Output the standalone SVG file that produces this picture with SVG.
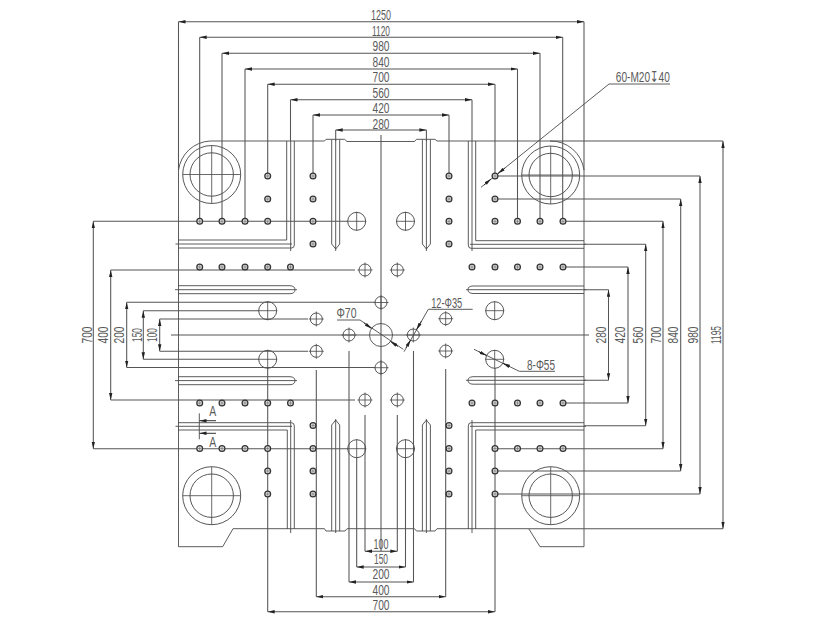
<svg xmlns="http://www.w3.org/2000/svg" xmlns:xlink="http://www.w3.org/1999/xlink" width="838" height="624" viewBox="0 0 838 624">
<style>
.o{fill:none;stroke:#4a4a4a;stroke-width:.9}
.e{fill:none;stroke:#555;stroke-width:1.05}
.d{fill:none;stroke:#555;stroke-width:1.05;marker-start:url(#ar);marker-end:url(#ar)}
.a{fill:none;stroke:#333;stroke-width:1;marker-end:url(#ar)}
text{font-family:"Liberation Sans",Arial,"DejaVu Sans",sans-serif;font-size:15px;fill:#5a5a5a;text-anchor:middle}
text.b{font-size:14px}
</style>
<defs>
<marker id="ar" markerUnits="userSpaceOnUse" markerWidth="8" markerHeight="4" refX="7" refY="2" orient="auto-start-reverse"><path d="M0,.3L7,2L0,3.7z" fill="#222"/></marker>
<g id="h"><circle r="2.9" fill="#ddd" stroke="#333" stroke-width="1.25"/><path d="M-1.8,0H1.8M0,-1.8V1.8" stroke="#666" stroke-width=".6"/></g>
<g id="c55"><circle r="9" fill="none" stroke="#444" stroke-width=".9"/><path d="M-9.5,0H9.5M0,-9.5V9.5" stroke="#444" stroke-width=".8"/></g>
<g id="c35"><circle r="6" fill="none" stroke="#444" stroke-width=".9"/><path d="M-7.5,0H7.5M0,-7.5V7.5" stroke="#444" stroke-width=".8"/></g>
<g id="ring"><circle r="29" fill="none" stroke="#444" stroke-width=".9"/><circle r="21.7" fill="none" stroke="#444" stroke-width=".9"/><path d="M-29,0H29M0,-29V29" stroke="#444" stroke-width=".8"/></g>
</defs>
<rect width="838" height="624" fill="#fff"/>

<g id="plate">
<path class="o" d="M210,141H324.5L326,139.3H344.5L347,141.5H414.5L416.5,139.3H435L437,141H550A33.5,33.5 0 0 1 584,170V546.7H540L528.7,528.7H437L435,531H416.5L414.5,528.7H347L345,531H326L324.5,528.7H233L222.7,546.7H178.5V170A33.5,33.5 0 0 1 210,141Z"/>
<path class="o" d="M178,240H286.7V141M178,248H291.5Q294.3,248 294.3,245V141M175.5,244H292M290.7,141V251"/>
<path class="o" d="M584,240.7H475.7V141M584,248.3H471Q468.3,248.3 468.3,245V141M586,244.3H470M472,141V251"/>
<path class="o" d="M178,430H287.3V529M178,422.7H291.5Q294.3,422.7 294.3,426V529M175.5,426.3H292M290.7,420V533"/>
<path class="o" d="M584,430H475.7V529M584,422.7H471Q468.3,422.7 468.3,426V529M586,426.3H470M472,420V533"/>
<path class="o" d="M178,285.7H290Q295,286 295,289.7Q295,293.5 290,293.7H178M175,289.7H297"/>
<path class="o" d="M178,376.7H290Q295,377 295,380.5Q295,384.5 290,384.7H178M175,380.6H297"/>
<path class="o" d="M584,286H473Q468,286 468,289.7Q468,293.3 473,293.5H584M586,289.7H466"/>
<path class="o" d="M584,376.7H473Q468,377 468,380.3Q468,384 473,384.2H584M586,380.3H466"/>
<path class="o" d="M331.7,139.5V244L335.7,249L339.7,244V139.5M335.7,139.5V251"/>
<path class="o" d="M422.4,139.5V244L426.4,249L430.4,244V139.5M426.4,139.5V251"/>
<path class="o" d="M331.7,531V425L335.7,420L339.7,425V531M335.7,419V533"/>
<path class="o" d="M422.4,531V425L426.4,420L430.4,425V531M426.4,419V533"/>
<use xlink:href="#ring" href="#ring" x="211.7" y="174.5"/>
<use xlink:href="#ring" href="#ring" x="550.7" y="175"/>
<use xlink:href="#ring" href="#ring" x="211.7" y="495.7"/>
<use xlink:href="#ring" href="#ring" x="550.7" y="495.7"/>
<circle cx="381" cy="335" r="11.5" class="o"/>
<use href="#c55" x="356.7" y="221.3"/><use href="#c55" x="405.5" y="221.3"/>
<use href="#c55" x="356.7" y="448.7"/><use href="#c55" x="405.5" y="448.7"/>
<use href="#c55" x="267.7" y="310.7"/><use href="#c55" x="267.7" y="359.3"/>
<use href="#c55" x="494.7" y="310.7"/><use href="#c55" x="494.7" y="359.3"/>
<use href="#c35" x="365" y="270"/><use href="#c35" x="397.3" y="270"/>
<use href="#c35" x="365" y="400"/><use href="#c35" x="397.3" y="400"/>
<use href="#c35" x="316.3" y="319"/><use href="#c35" x="316.3" y="351.3"/>
<use href="#c35" x="445.7" y="318.7"/><use href="#c35" x="445.7" y="351"/>
<use href="#c35" x="349" y="335"/><use href="#c35" x="413.3" y="335"/>
<use href="#c35" x="381" y="302.5"/><use href="#c35" x="381" y="367.7"/>
</g>

<g id="connectors">
<path class="e" d="M178.5,21.7V170M584,21.7V170M199.7,37.3V221.3M562.7,37.3V221.3M222,53.3V221.3M540,53.3V221.3M245,69V221.3M517.5,69V221.3M267.7,84.3V176M495,84.3V176M290.5,99.7V141M472,99.7V141M313,115V176M449,115V176M335.7,130V141M426.4,130V141"/>
<path class="e" d="M381,135V551.3M171,335H589"/>
<path class="d" d="M178.5,21.7H584"/><path class="d" d="M199.7,37.3H562.7"/><path class="d" d="M222,53.3H540"/><path class="d" d="M245,69H517.5"/><path class="d" d="M267.7,84.3H495"/><path class="d" d="M290.5,99.7H472"/><path class="d" d="M313,115H449"/><path class="d" d="M335.7,130H426.4"/>
<path class="e" d="M550,141H723M528.7,528.7H723M495,176H700M495,199H680.7M563,221.3H663M584,244.3H645.7M563,267H628M584,289.7H608.5M584,380.3H608.5M563,403H628M584,425.7H645.7M495,448.7H663M495,471H680.7M495,494H700"/>
<path class="d" d="M723,141V528.7"/><path class="d" d="M700,176V494"/><path class="d" d="M680.7,199V471"/><path class="d" d="M663,221.3V448.7"/><path class="d" d="M645.7,244.3V425.7"/><path class="d" d="M628,267V403"/><path class="d" d="M608.5,289.7V380.3"/>
<path class="e" d="M93.3,221.3H348M93.3,448.7H348M110.7,270H355M110.7,400H355M126.7,302.3H375M126.7,367.5H375M143.3,310.7H259M143.3,359.3H259M159.7,319H308M159.7,351.3H308"/>
<path class="d" d="M93.3,221.3V448.7"/><path class="d" d="M110.7,270V400"/><path class="d" d="M126.7,302.3V367.5"/><path class="d" d="M143.3,310.7V359.3"/><path class="d" d="M159.7,319V351.3"/>
<path class="e" d="M365,415V551.3M397.3,415V551.3M356.7,458V567M405.5,458V567M349,351V582M413.5,351V582M316.3,370V596.7M445.7,369V596.7M267.7,368V611.7M495,368V611.7"/>
<path class="d" d="M365,551.3H397.3"/><path class="d" d="M356.7,567H405.5"/><path class="d" d="M349,582H413.5"/><path class="d" d="M316.3,596.7H445.7"/><path class="d" d="M267.7,611.7H495"/>
<path class="o" d="M670,84H609L481,187.3"/>
<path class="a" d="M505,168L498,173.5"/><path class="a" d="M484,185L491,179"/>
<path class="o" d="M337,320H360L403.3,349.3"/>
<path class="a" d="M364,323L371.5,328.5"/><path class="a" d="M398,346.5L390.5,341.5"/>
<path class="o" d="M472.7,309.3H428.3L404,351.7"/>
<path class="a" d="M421.5,321L416.5,329.7"/><path class="a" d="M406,348L410.5,340"/>
<path class="o" d="M555,371.3H519.3L474,349.3"/>
<path class="a" d="M479,351.8L486.5,355.5"/><path class="a" d="M510,366.7L503,363.3"/>
<path class="o" d="M199.3,413.3V439.3"/>
<path class="a" d="M216,420.7H199.5"/><path class="a" d="M216,433.3H199.5"/>
</g>

<g id="holes">
<use href="#h" x="267.7" y="176"/><use href="#h" x="313" y="176"/><use href="#h" x="449" y="176"/><use href="#h" x="495" y="176"/>
<use href="#h" x="267.7" y="199"/><use href="#h" x="313" y="199"/><use href="#h" x="449" y="199"/><use href="#h" x="495" y="199"/>
<use href="#h" x="199.7" y="221.3"/><use href="#h" x="222" y="221.3"/><use href="#h" x="245" y="221.3"/><use href="#h" x="267.7" y="221.3"/><use href="#h" x="313" y="221.3"/><use href="#h" x="449" y="221.3"/><use href="#h" x="495" y="221.3"/><use href="#h" x="517.5" y="221.3"/><use href="#h" x="540" y="221.3"/><use href="#h" x="563" y="221.3"/>
<use href="#h" x="313" y="244"/><use href="#h" x="449" y="244"/>
<use href="#h" x="199.7" y="267"/><use href="#h" x="222" y="267"/><use href="#h" x="245" y="267"/><use href="#h" x="267.7" y="267"/><use href="#h" x="290.5" y="267"/><use href="#h" x="472" y="267"/><use href="#h" x="495" y="267"/><use href="#h" x="517.5" y="267"/><use href="#h" x="540" y="267"/><use href="#h" x="563" y="267"/>
<use href="#h" x="199.7" y="403"/><use href="#h" x="222" y="403"/><use href="#h" x="245" y="403"/><use href="#h" x="267.7" y="403"/><use href="#h" x="290.5" y="403"/><use href="#h" x="472" y="403"/><use href="#h" x="495" y="403"/><use href="#h" x="517.5" y="403"/><use href="#h" x="540" y="403"/><use href="#h" x="563" y="403"/>
<use href="#h" x="313" y="425.5"/><use href="#h" x="449" y="425.5"/>
<use href="#h" x="199.7" y="448.5"/><use href="#h" x="222" y="448.5"/><use href="#h" x="245" y="448.5"/><use href="#h" x="267.7" y="448.5"/><use href="#h" x="313" y="448.5"/><use href="#h" x="449" y="448.5"/><use href="#h" x="495" y="448.5"/><use href="#h" x="517.5" y="448.5"/><use href="#h" x="540" y="448.5"/><use href="#h" x="563" y="448.5"/>
<use href="#h" x="267.7" y="471"/><use href="#h" x="313" y="471"/><use href="#h" x="449" y="471"/><use href="#h" x="495" y="471"/>
<use href="#h" x="267.7" y="494"/><use href="#h" x="313" y="494"/><use href="#h" x="449" y="494"/><use href="#h" x="495" y="494"/>
</g>

<g id="labels">
<text class="b" x="381" y="19.5" textLength="20" lengthAdjust="spacingAndGlyphs">1250</text>
<text class="b" x="381" y="35.5" textLength="18" lengthAdjust="spacingAndGlyphs">1120</text>
<text class="b" x="381" y="51" textLength="17" lengthAdjust="spacingAndGlyphs">980</text>
<text class="b" x="381" y="66.7" textLength="17" lengthAdjust="spacingAndGlyphs">840</text>
<text class="b" x="381" y="82" textLength="17" lengthAdjust="spacingAndGlyphs">700</text>
<text class="b" x="381" y="97.5" textLength="17" lengthAdjust="spacingAndGlyphs">560</text>
<text class="b" x="381" y="113" textLength="17" lengthAdjust="spacingAndGlyphs">420</text>
<text class="b" x="381" y="128.5" textLength="17" lengthAdjust="spacingAndGlyphs">280</text>
<text class="b" x="381" y="548.6" textLength="15" lengthAdjust="spacingAndGlyphs">100</text>
<text class="b" x="381" y="564" textLength="14" lengthAdjust="spacingAndGlyphs">150</text>
<text class="b" x="381" y="579.3" textLength="17" lengthAdjust="spacingAndGlyphs">200</text>
<text class="b" x="381" y="594.6" textLength="17" lengthAdjust="spacingAndGlyphs">400</text>
<text class="b" x="381" y="610" textLength="17" lengthAdjust="spacingAndGlyphs">700</text>
<text transform="translate(606,335) rotate(-90)" textLength="17" lengthAdjust="spacingAndGlyphs">280</text>
<text transform="translate(625,335) rotate(-90)" textLength="17" lengthAdjust="spacingAndGlyphs">420</text>
<text transform="translate(642.7,335) rotate(-90)" textLength="17" lengthAdjust="spacingAndGlyphs">560</text>
<text transform="translate(660.7,335) rotate(-90)" textLength="17" lengthAdjust="spacingAndGlyphs">700</text>
<text transform="translate(678.3,335) rotate(-90)" textLength="17" lengthAdjust="spacingAndGlyphs">840</text>
<text transform="translate(697.7,335) rotate(-90)" textLength="17" lengthAdjust="spacingAndGlyphs">980</text>
<text transform="translate(721,335) rotate(-90)" textLength="18" lengthAdjust="spacingAndGlyphs">1195</text>
<text transform="translate(92,335) rotate(-90)" textLength="17" lengthAdjust="spacingAndGlyphs">700</text>
<text transform="translate(108,335) rotate(-90)" textLength="17" lengthAdjust="spacingAndGlyphs">400</text>
<text transform="translate(124,335) rotate(-90)" textLength="17" lengthAdjust="spacingAndGlyphs">200</text>
<text transform="translate(141.7,335) rotate(-90)" textLength="14" lengthAdjust="spacingAndGlyphs">150</text>
<text transform="translate(157,335) rotate(-90)" textLength="14" lengthAdjust="spacingAndGlyphs">100</text>
<text x="642.8" y="82" textLength="54" lengthAdjust="spacingAndGlyphs">60-M20↧40</text>
<text x="346.5" y="318" textLength="20" lengthAdjust="spacingAndGlyphs">Φ70</text>
<text x="446.7" y="307.5" textLength="31" lengthAdjust="spacingAndGlyphs">12-Φ35</text>
<text x="541" y="369.5" textLength="28" lengthAdjust="spacingAndGlyphs">8-Φ55</text>
<text x="212.7" y="416" textLength="7" lengthAdjust="spacingAndGlyphs">A</text>
<text x="212.7" y="447" textLength="7" lengthAdjust="spacingAndGlyphs">A</text>
</g>
</svg>
